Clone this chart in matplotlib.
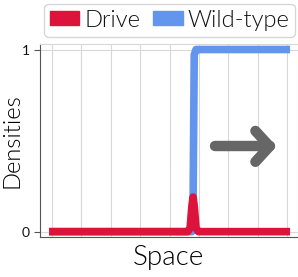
import matplotlib
matplotlib.use("Agg")
import matplotlib.pyplot as plt
from matplotlib.patches import Patch

plt.rcParams['font.family'] = ['Lato', 'DejaVu Sans']
plt.rcParams['font.weight'] = 300
plt.rcParams['axes.labelweight'] = 300
plt.rcParams['text.color'] = '#111111'

space = [-0.1, 4.62, 4.70, 4.76, 4.80, 4.84, 4.90, 4.98, 8.1]
drive = [0.0, 0.0, 0.02, 0.14, 0.19, 0.14, 0.02, 0.0, 0.0]
wild_type = [0.0, 0.0, 0.0, 0.0, 0.15, 0.97, 1.0, 1.0, 1.0]
xgrid = [0, 1, 2, 3, 4, 5, 6, 7, 8]
yticks = [0, 1]

fig = plt.figure(figsize=(2.98, 2.77), dpi=100)
ax = fig.add_axes([0.134, 0.144, 0.866, 0.697])

ax.plot(space, wild_type, color='cornflowerblue', lw=5.5, solid_capstyle='butt',
        solid_joinstyle='round')
ax.plot(space, drive, color='crimson', lw=5.5, solid_capstyle='butt',
        solid_joinstyle='round')

# arrow
ax.plot([0.68, 0.89], [0.47, 0.47], color='#666666', lw=7.5, solid_capstyle='round',
        transform=ax.transAxes)
ax.plot([0.835, 0.89, 0.835], [0.55, 0.47, 0.39], color='#666666', lw=7.5,
        solid_capstyle='round', solid_joinstyle='round', transform=ax.transAxes)

ax.set_xlim(-0.41, 8.37)
ax.set_ylim(-0.03, 1.03)
ax.set_xticks(xgrid)
ax.set_xticklabels([])
ax.tick_params(axis='x', length=0)
ax.set_yticks(yticks)
ax.tick_params(axis='y', labelsize=10, length=4, color='#555555', labelcolor='#111111')
for lbl in ax.get_yticklabels():
    lbl.set_fontweight(400)
ax.grid(True, color='#d8d8d8', lw=0.8)
ax.set_axisbelow(True)
for s in ['left', 'bottom']:
    ax.spines[s].set_color('#555555')
for s in ['top', 'right']:
    ax.spines[s].set_color('#d8d8d8')

ax.set_xlabel('Space', fontsize=20, fontweight=300, labelpad=2)
ax.set_ylabel('Densities', fontsize=17, fontweight=300, labelpad=-1)

handles = [Patch(color='crimson', label='Drive'),
           Patch(color='cornflowerblue', label='Wild-type')]
fig.legend(handles=handles, loc='upper left', bbox_to_anchor=(0.14, 0.995),
           ncol=2, frameon=True, handlelength=1.25, handleheight=0.55,
           handletextpad=0.2, columnspacing=0.55, borderpad=0.25,
           borderaxespad=0.1, labelcolor='#111111', prop={'size': 17, 'weight': 300})

fig.savefig('out.png', dpi=100)
